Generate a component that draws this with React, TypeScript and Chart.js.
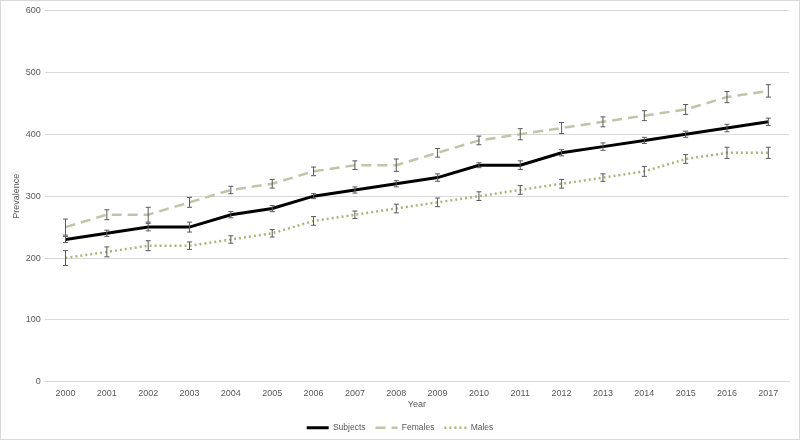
import React, { useEffect, useRef } from "react";
import { Chart, registerables } from "chart.js";

Chart.register(...registerables);

const YEARS = ["2000","2001","2002","2003","2004","2005","2006","2007","2008","2009","2010","2011","2012","2013","2014","2015","2016","2017"];
const SUBJECTS = [230,240,250,250,270,280,300,310,320,330,350,350,370,380,390,400,410,420];
const FEMALES = [250,270,270,290,310,320,340,350,350,370,390,400,410,420,430,440,460,470];
const MALES = [200,210,220,220,230,240,260,270,280,290,300,310,320,330,340,360,370,370];
const SUBJECTS_ERR = [5,5,6,8,5,5,4,5,5,6,4,7,5,6,5,5,6,6];
const FEMALES_ERR = [13,8,12,8,6,7,7,7,10,7,7,9,9,8,8,8,9,10];
const MALES_ERR = [12,8,8,6,6,6,7,6,7,7,7,7,7,6,8,7,9,9];
const Y_TICKS = [0,100,200,300,400,500,600];

const ERRORS = [SUBJECTS_ERR, FEMALES_ERR, MALES_ERR];

const errorBarPlugin = {
  id: "errorBars",
  afterDatasetsDraw(chart: any) {
    const { ctx } = chart;
    const y = chart.scales.y;
    chart.data.datasets.forEach((ds: any, i: number) => {
      const meta = chart.getDatasetMeta(i);
      const errs = ERRORS[i];
      meta.data.forEach((pt: any, j: number) => {
        const v = ds.data[j];
        const e = errs[j];
        const top = y.getPixelForValue(v + e);
        const bot = y.getPixelForValue(v - e);
        const x = pt.x;
        ctx.save();
        ctx.strokeStyle = "#595959";
        ctx.lineWidth = 1;
        ctx.beginPath();
        ctx.moveTo(x, top);
        ctx.lineTo(x, bot);
        ctx.moveTo(x - 2.5, top);
        ctx.lineTo(x + 2.5, top);
        ctx.moveTo(x - 2.5, bot);
        ctx.lineTo(x + 2.5, bot);
        ctx.stroke();
        ctx.restore();
      });
    });
  },
};

export default function App() {
  const ref = useRef<HTMLCanvasElement>(null);
  useEffect(() => {
    document.body.style.margin = "0";
    const font = { family: "'Liberation Sans', Arial, sans-serif", size: 9 };
    const legendFont = { family: "'Liberation Sans', Arial, sans-serif", size: 8.5 };
    const chart = new Chart(ref.current!, {
      type: "line",
      data: {
        labels: YEARS,
        datasets: [
          { label: "Subjects", data: SUBJECTS, borderColor: "#000000", backgroundColor: "#000000", borderWidth: 3, pointRadius: 0, pointStyle: "line", tension: 0 },
          { label: "Females", data: FEMALES, borderColor: "#c3c3a9", backgroundColor: "#c3c3a9", borderWidth: 2.5, borderDash: [10, 6], pointRadius: 0, pointStyle: "line", tension: 0 },
          { label: "Males", data: MALES, borderColor: "#aeb37a", backgroundColor: "#aeb37a", borderWidth: 2.5, borderDash: [2, 3], pointRadius: 0, pointStyle: "line", tension: 0 },
        ],
      },
      options: {
        animation: false,
        responsive: false,
        layout: { padding: { left: 10, right: 6, top: -1, bottom: -3 } },
        plugins: {
          legend: {
            position: "bottom",
            labels: {
              usePointStyle: true,
              pointStyle: "line",
              pointStyleWidth: 22,
              font: legendFont,
              color: "#595959",
              padding: 10,
              boxHeight: 8,
              generateLabels: (c: any) => {
                const items = Chart.defaults.plugins.legend.labels.generateLabels(c);
                return items.map((it: any) => {
                  const ds: any = c.data.datasets[it.datasetIndex];
                  return { ...it, lineDash: ds.borderDash || [], lineWidth: ds.borderWidth, strokeStyle: ds.borderColor };
                });
              },
            },
          },
          tooltip: { enabled: false },
        },
        scales: {
          x: {
            offset: true,
            grid: { display: false, drawTicks: false },
            border: { color: "#d9d9d9" },
            ticks: { font, color: "#595959", maxRotation: 0, padding: 6 },
            title: { display: true, text: "Year", font, color: "#595959", padding: { top: -6, bottom: 4 } },
          },
          y: {
            min: 0,
            max: 600,
            afterBuildTicks: (s: any) => { s.ticks = Y_TICKS.map((v) => ({ value: v })); },
            grid: { color: "#d9d9d9", drawTicks: false },
            border: { display: false },
            ticks: { font, color: "#595959", padding: 4 },
            title: { display: true, text: "Prevalence", font, color: "#595959", padding: { top: 0, bottom: 0 } },
          },
        },
      },
      plugins: [errorBarPlugin],
    });
    return () => chart.destroy();
  }, []);
  return (
    <div style={{ position: "relative", width: 800, height: 440, boxSizing: "border-box", border: "1px solid #d9d9d9" }}>
      <canvas ref={ref} width={794} height={438} style={{ display: "block" }} />
    </div>
  );
}
